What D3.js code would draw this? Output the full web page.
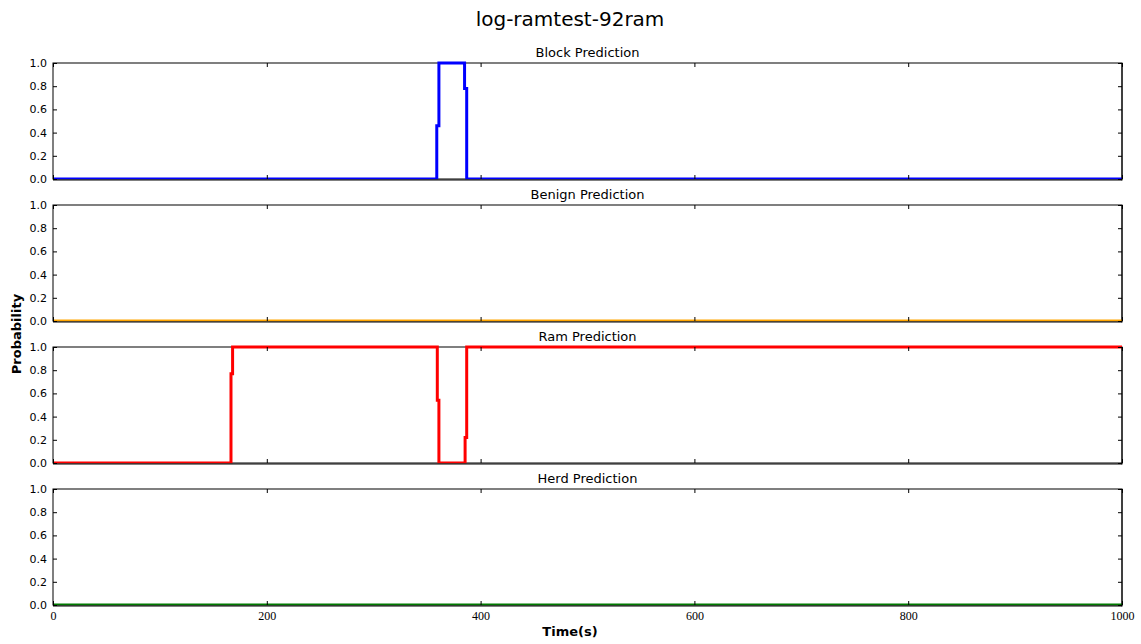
<!DOCTYPE html>
<html>
<head>
<meta charset="utf-8">
<script src="https://cdn.jsdelivr.net/npm/d3@7"></script>
<style>
  html, body { margin: 0; padding: 0; background: #fff; }
  svg { display: block; }
</style>
</head>
<body>
<svg id="chart" width="1141" height="644"></svg>
<script>
// Prediction probabilities over time; each series is a step series
// (value holds from its time until the next time).
const panelTitles = ["Block Prediction", "Benign Prediction", "Ram Prediction", "Herd Prediction"];
const blockTimes  = [0, 359, 361, 385, 387, 1000];
const blockValues = [0, 0.46, 1.0, 0.78, 0, 0];
const benignTimes  = [0, 1000];
const benignValues = [0, 0];
const ramTimes  = [0, 166.5, 168, 359.5, 361, 385.5, 387, 1000];
const ramValues = [0, 0.77, 1.0, 0.54, 0, 0.22, 1.0, 1.0];
const herdTimes  = [0, 1000];
const herdValues = [0, 0];
const xTicks = [0, 200, 400, 600, 800, 1000];
const yTicks = [0, 0.2, 0.4, 0.6, 0.8, 1.0];
const seriesColors = ["#0000ff", "#ffa500", "#ff0000", "#007a00"];

const series = [
  { times: blockTimes, values: blockValues },
  { times: benignTimes, values: benignValues },
  { times: ramTimes, values: ramValues },
  { times: herdTimes, values: herdValues }
];

const svg = d3.select("#chart");
const left = 53, right = 1122;
const panelTop0 = 63, panelH = 116, panelStep = 142;

const x = d3.scaleLinear().domain([0, 1000]).range([left, right]);

// Figure title
svg.append("text")
  .attr("x", 570).attr("y", 26)
  .attr("text-anchor", "middle")
  .attr("font-family", "DejaVu Sans, sans-serif")
  .attr("font-size", 20)
  .attr("fill", "#000")
  .text("log-ramtest-92ram");

series.forEach((s, i) => {
  const top = panelTop0 + i * panelStep;
  const y = d3.scaleLinear().domain([0, 1]).range([top + panelH, top]);
  const g = svg.append("g");

  // Frame
  g.append("rect")
    .attr("x", left).attr("y", top)
    .attr("width", right - left).attr("height", panelH)
    .attr("fill", "none")
    .attr("stroke", "#000")
    .attr("stroke-width", 1);

  // Clip lines to the axes area
  const clipId = "clip" + i;
  svg.append("clipPath").attr("id", clipId)
    .append("rect").attr("x", left).attr("y", top - 2)
    .attr("width", right - left).attr("height", panelH + 2.3);

  const pts = s.times.map((t, k) => [t, s.values[k]]);
  const line = d3.line()
    .x(d => x(d[0]))
    .y(d => y(d[1]))
    .curve(d3.curveStepAfter);

  g.append("path")
    .attr("d", line(pts))
    .attr("fill", "none")
    .attr("stroke", seriesColors[i])
    .attr("stroke-width", 3)
    .attr("clip-path", `url(#${clipId})`);

  // Inward ticks on all four sides
  const tickLen = 4;
  const yAxisL = d3.axisLeft(y).tickValues(yTicks).tickSizeInner(-tickLen).tickSizeOuter(0)
    .tickFormat(d3.format(".1f")).tickPadding(6);
  const ag = g.append("g").attr("transform", `translate(${left},0)`).call(yAxisL);
  ag.select(".domain").remove();
  ag.selectAll("text")
    .attr("font-family", "DejaVu Sans, sans-serif")
    .attr("font-size", 11)
    .attr("fill", "#000");
  ag.selectAll("line").attr("stroke", "#000");

  const yAxisR = d3.axisRight(y).tickValues(yTicks).tickSizeInner(-tickLen).tickSizeOuter(0).tickFormat("");
  const rg = g.append("g").attr("transform", `translate(${right},0)`).call(yAxisR);
  rg.select(".domain").remove();
  rg.selectAll("line").attr("stroke", "#000");

  const xAxisB = d3.axisBottom(x).tickValues(xTicks).tickSizeInner(-tickLen).tickSizeOuter(0)
    .tickFormat(d3.format("d")).tickPadding(6);
  const bg = g.append("g").attr("transform", `translate(0,${top + panelH})`).call(xAxisB);
  bg.select(".domain").remove();
  bg.selectAll("line").attr("stroke", "#000");
  if (i === series.length - 1) {
    bg.selectAll("text")
      .attr("font-family", "Liberation Serif, serif")
      .attr("font-size", 12)
      .attr("fill", "#000");
  } else {
    bg.selectAll("text").remove();
  }

  const xAxisT = d3.axisTop(x).tickValues(xTicks).tickSizeInner(-tickLen).tickSizeOuter(0).tickFormat("");
  const tg = g.append("g").attr("transform", `translate(0,${top})`).call(xAxisT);
  tg.select(".domain").remove();
  tg.selectAll("line").attr("stroke", "#000");

  // Bottom and right spines drawn over the data lines
  g.append("line")
    .attr("x1", left).attr("x2", right)
    .attr("y1", top + panelH + 1).attr("y2", top + panelH + 1)
    .attr("stroke", "#000").attr("stroke-width", 1);
  g.append("line")
    .attr("x1", right).attr("x2", right)
    .attr("y1", top).attr("y2", top + panelH + 1.5)
    .attr("stroke", "#000").attr("stroke-width", 1);

  // Panel title
  g.append("text")
    .attr("x", (left + right) / 2).attr("y", top - 6)
    .attr("text-anchor", "middle")
    .attr("font-family", "DejaVu Sans, sans-serif")
    .attr("font-size", 13)
    .attr("fill", "#000")
    .text(panelTitles[i]);
});

// Axis labels
svg.append("text")
  .attr("x", 570).attr("y", 636)
  .attr("text-anchor", "middle")
  .attr("font-family", "DejaVu Sans, sans-serif")
  .attr("font-weight", "bold")
  .attr("font-size", 13)
  .attr("fill", "#000")
  .text("Time(s)");

svg.append("text")
  .attr("transform", "translate(21,334) rotate(-90)")
  .attr("text-anchor", "middle")
  .attr("font-family", "DejaVu Sans, sans-serif")
  .attr("font-weight", "bold")
  .attr("font-size", 13)
  .attr("fill", "#000")
  .text("Probability");
</script>
</body>
</html>
